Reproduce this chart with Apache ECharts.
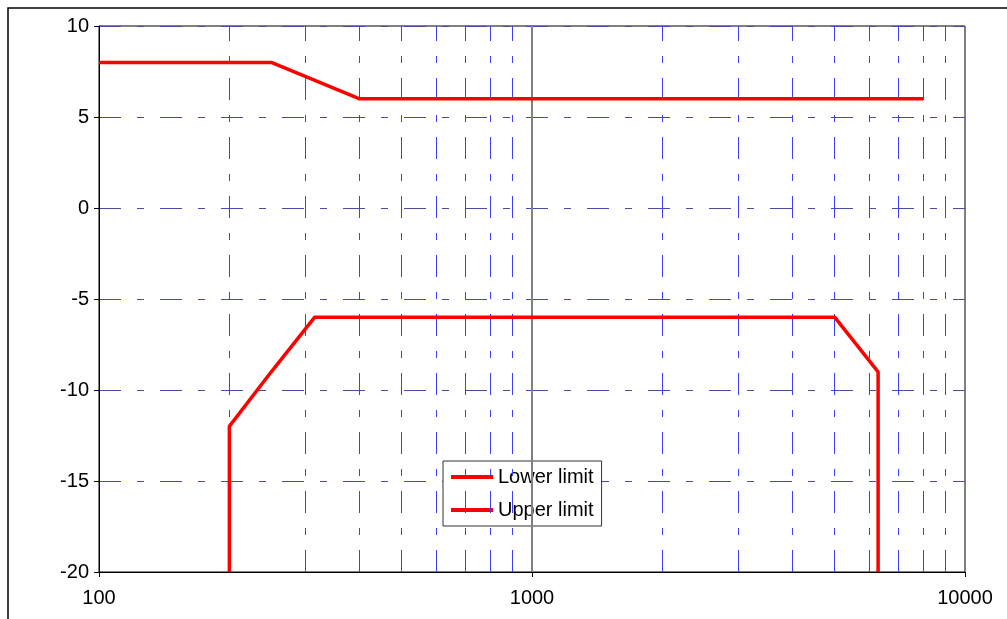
<!DOCTYPE html>
<html><head><meta charset="utf-8">
<script src="https://cdn.jsdelivr.net/npm/echarts@6/dist/echarts.min.js"></script>
<style>html,body{margin:0;padding:0;background:#fff}#c{width:1007px;height:619px}</style>
</head><body><div id="c"></div>
<script>
var lowerLimit = [[200,-20],[200,-12],[250,-9],[315,-6],[5000,-6],[6300,-9],[6300,-20]];
var upperLimit = [[100,8],[250,8],[400,6],[8000,6]];
var minorGridX = [200,300,400,500,600,700,800,900,2000,3000,4000,5000,6000,7000,8000,9000];
var majorGridX = [1000];
var yTicks = {min:-20, max:10, interval:5};
var xRange = {min:100, max:10000};

var chart = echarts.init(document.getElementById('c'), null, {renderer:'canvas'});
var font = '"Liberation Sans", Arial, sans-serif';
var gridLines = minorGridX.map(function(v){
  return {xAxis: v, lineStyle:{color:'#3d3dff', width:1, type:[22,15,7,15]}};
}).concat(majorGridX.map(function(v){
  return {xAxis: v, lineStyle:{color:'#808080', width:2, type:'solid'}};
}));
chart.setOption({
  animation:false,
  backgroundColor:'#fff',
  graphic:[{type:'rect', shape:{x:8, y:8, width:1100, height:700},
    style:{fill:'none', stroke:'#000', lineWidth:1.5}, z:-10}],
  grid:{left:99, top:26, right:42, bottom:47, show:true, borderColor:'#000', borderWidth:1, backgroundColor:'transparent'},
  legend:{
    orient:'vertical', left:443, top:461,
    backgroundColor:'#fff', borderColor:'#333', borderWidth:1,
    padding:[6,8,6,8], itemGap:13, itemWidth:42, itemHeight:4, itemTextGap:5,
    icon:'rect',
    textStyle:{fontFamily:font, fontSize:20, color:'#000'},
    data:['Lower limit','Upper limit']
  },
  xAxis:{
    type:'log', logBase:10, min:xRange.min, max:xRange.max,
    axisLine:{show:true, onZero:false, lineStyle:{color:'#000', width:1}},
    axisTick:{show:true, length:5, lineStyle:{color:'#000'}},
    axisLabel:{fontFamily:font, fontSize:20, color:'#000', margin:16,
      formatter:function(v){ return String(Math.round(v)); }},
    splitLine:{show:false}, minorTick:{show:false}, minorSplitLine:{show:false}
  },
  yAxis:{
    type:'value', min:yTicks.min, max:yTicks.max, interval:yTicks.interval,
    axisLine:{show:true, onZero:false, lineStyle:{color:'#000', width:1}},
    axisTick:{show:true, length:5, lineStyle:{color:'#000'}},
    axisLabel:{fontFamily:font, fontSize:20, color:'#000', margin:10},
    splitLine:{show:true, lineStyle:{color:'#4b4ba6', width:1, type:[22,16,7,16]}}
  },
  series:[
    {name:'Lower limit', type:'line', data:lowerLimit, symbol:'none', showSymbol:false,
     lineStyle:{color:'#ff0000', width:3.5}, itemStyle:{color:'#ff0000'}, z:5,
     markLine:{silent:true, symbol:'none', label:{show:false}, animation:false, data:gridLines}},
    {name:'Upper limit', type:'line', data:upperLimit, symbol:'none', showSymbol:false,
     lineStyle:{color:'#ff0000', width:3.5}, itemStyle:{color:'#ff0000'}, z:5}
  ]
});
</script>
</body></html>
